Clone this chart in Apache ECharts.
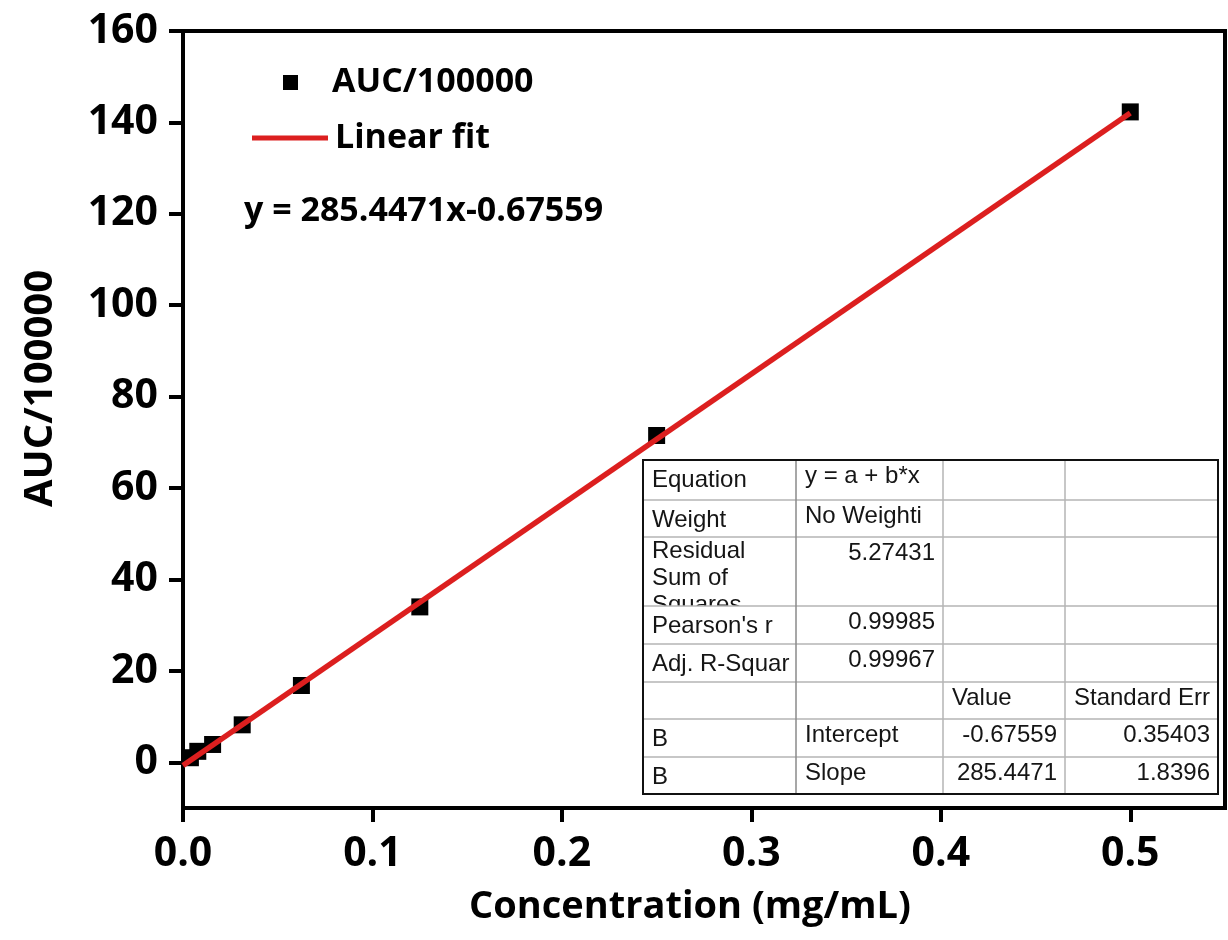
<!DOCTYPE html>
<html>
<head>
<meta charset="utf-8">
<style>
  html, body { margin: 0; padding: 0; background: #fff; }
  #chart { width: 1228px; height: 940px; }
</style>
<script src="https://cdn.jsdelivr.net/npm/echarts@6/dist/echarts.min.js"></script>
</head>
<body>
<div id="chart"></div>
<script>
// measured points (serial dilution)
const concentration = [0.00390625, 0.0078125, 0.015625, 0.03125, 0.0625, 0.125, 0.25, 0.5];
const auc = [1.0, 2.4, 3.9, 8.2, 16.8, 34.0, 71.5, 142.3];

// fitted line end points
const fitX = [0, 0.5];
const fitY = [-0.68, 142.05];

const xTicks = [0, 0.1, 0.2, 0.3, 0.4, 0.5];
const yTicks = [0, 20, 40, 60, 80, 100, 120, 140, 160];

const seriesNames = ['AUC/100000', 'Linear fit'];
const equationText = 'y = 285.4471x-0.67559';

// fit report table
const tableRows = [
  ['Equation', 'y = a + b*x', '', ''],
  ['Weight', 'No Weighti', '', ''],
  ['Residual\nSum of\nSquares', '5.27431', '', ''],
  ["Pearson's r", '0.99985', '', ''],
  ['Adj. R-Squar', '0.99967', '', ''],
  ['', '', 'Value', 'Standard Err'],
  ['B', 'Intercept', '-0.67559', '0.35403'],
  ['B', 'Slope', '285.4471', '1.8396']
];

const FONT = '"Open Sans", "DejaVu Sans", sans-serif';
const TFONT = '"Liberation Sans", Arial, sans-serif';
const RED = '#dc1f1f';

// table layout
const colX = [643, 796, 943, 1065, 1218];
const rowY = [460, 500, 537, 606, 644, 682, 719, 757, 794];

function isNum(s) { return /^-?[0-9.]+$/.test(s); }

function buildTable() {
  const els = [];
  const L = colX[0], R = colX[colX.length - 1], T = rowY[0], B = rowY[rowY.length - 1];
  els.push({ type: 'rect', z: 10, shape: { x: L, y: T, width: R - L, height: B - T }, style: { fill: '#fff' } });
  // cover for the clipped third line of "Residual Sum of Squares"
  els.push({ type: 'rect', z: 12, shape: { x: L, y: rowY[3], width: R - L, height: B - rowY[3] }, style: { fill: '#fff' } });
  for (let i = 1; i < rowY.length - 1; i++) {
    els.push({ type: 'line', z: 13, shape: { x1: L, y1: rowY[i], x2: R, y2: rowY[i] }, style: { stroke: '#b5b5b5', lineWidth: 1.5 } });
  }
  for (let j = 1; j < colX.length - 1; j++) {
    els.push({ type: 'line', z: 13, shape: { x1: colX[j], y1: T, x2: colX[j], y2: B }, style: { stroke: j === 1 ? '#8a8a8a' : '#b5b5b5', lineWidth: 1.5 } });
  }
  els.push({ type: 'rect', z: 14, shape: { x: L, y: T, width: R - L, height: B - T }, style: { fill: 'none', stroke: '#111', lineWidth: 2 } });

  tableRows.forEach((row, r) => {
    row.forEach((txt, c) => {
      if (!txt) return;
      const multi = txt.indexOf('\n') >= 0;
      const num = isNum(txt);
      const x = num ? colX[c + 1] - 8 : colX[c] + 9;
      let y;
      if (multi) y = rowY[r] + 1;
      else if (c === 0) y = rowY[r] + 7;
      else y = rowY[r] + 3;
      const w = colX[c + 1] - colX[c] - 10;
      els.push({
        type: 'text', z: multi ? 11 : 15,
        x: x, y: y,
        style: {
          text: txt, fill: '#151515',
          font: '24px ' + TFONT, lineHeight: 27,
          align: num ? 'right' : 'left', textAlign: num ? 'right' : 'left',
          verticalAlign: 'top', textVerticalAlign: 'top',
          width: w, overflow: 'truncate', ellipsis: ''
        }
      });
    });
  });
  return els;
}

function buildLegend() {
  return [
    { type: 'rect', z: 20, shape: { x: 283, y: 75, width: 15, height: 15 }, style: { fill: '#000' } },
    { type: 'text', z: 20, x: 332, y: 82,
      style: { text: seriesNames[0], font: 'bold 34px ' + FONT, fill: '#000', verticalAlign: 'middle', textVerticalAlign: 'middle' } },
    { type: 'line', z: 20, shape: { x1: 252, y1: 138, x2: 328, y2: 138 }, style: { stroke: RED, lineWidth: 5 } },
    { type: 'text', z: 20, x: 335, y: 138,
      style: { text: seriesNames[1], font: 'bold 34px ' + FONT, fill: '#000', verticalAlign: 'middle', textVerticalAlign: 'middle' } },
    { type: 'text', z: 20, x: 244, y: 211,
      style: { text: equationText, font: 'bold 34px ' + FONT, fill: '#000', verticalAlign: 'middle', textVerticalAlign: 'middle' } }
  ];
}

const chart = echarts.init(document.getElementById('chart'), null, { renderer: 'canvas' });

const option = {
  backgroundColor: '#fff',
  animation: false,
  grid: {
    left: 183, right: 3, top: 31, bottom: 132,
    show: true, borderColor: '#000', borderWidth: 4, backgroundColor: 'transparent'
  },
  xAxis: {
    type: 'value', min: 0, max: 0.55,
    name: 'Concentration (mg/mL)', nameLocation: 'middle', nameGap: 80,
    nameTextStyle: { fontFamily: FONT, fontSize: 38, fontWeight: 'bold', color: '#000', padding: [0, 28, 0, 0] },
    axisLine: { onZero: false, lineStyle: { color: '#000', width: 4 } },
    axisTick: { show: true, length: 14, customValues: xTicks, lineStyle: { color: '#000', width: 4 } },
    axisLabel: {
      customValues: xTicks, margin: 26,
      fontFamily: FONT, fontSize: 41, fontWeight: 'bold', color: '#000',
      formatter: v => v.toFixed(1)
    },
    splitLine: { show: false }
  },
  yAxis: {
    type: 'value', min: -10, max: 160,
    name: 'AUC/100000', nameLocation: 'middle', nameGap: 122, nameRotate: 90,
    nameTextStyle: { fontFamily: FONT, fontSize: 40, fontWeight: 'bold', color: '#000', padding: [0, 0, 0, 62] },
    axisLine: { onZero: false, lineStyle: { color: '#000', width: 4 } },
    axisTick: { show: true, length: 14, customValues: yTicks, lineStyle: { color: '#000', width: 4 } },
    axisLabel: {
      customValues: yTicks, margin: 25,
      fontFamily: FONT, fontSize: 41, fontWeight: 'bold', color: '#000'
    },
    splitLine: { show: false }
  },
  graphic: buildLegend().concat(buildTable()),
  series: [
    {
      name: seriesNames[0], type: 'scatter',
      symbol: 'rect', symbolSize: 17,
      itemStyle: { color: '#000', opacity: 1 },
      data: concentration.map((x, i) => [x, auc[i]]),
      z: 3
    },
    {
      name: seriesNames[1], type: 'line',
      symbol: 'none', showSymbol: false,
      lineStyle: { color: RED, width: 5.5 },
      data: fitX.map((x, i) => [x, fitY[i]]),
      z: 4
    }
  ]
};

chart.setOption(option);
</script>
</body>
</html>
